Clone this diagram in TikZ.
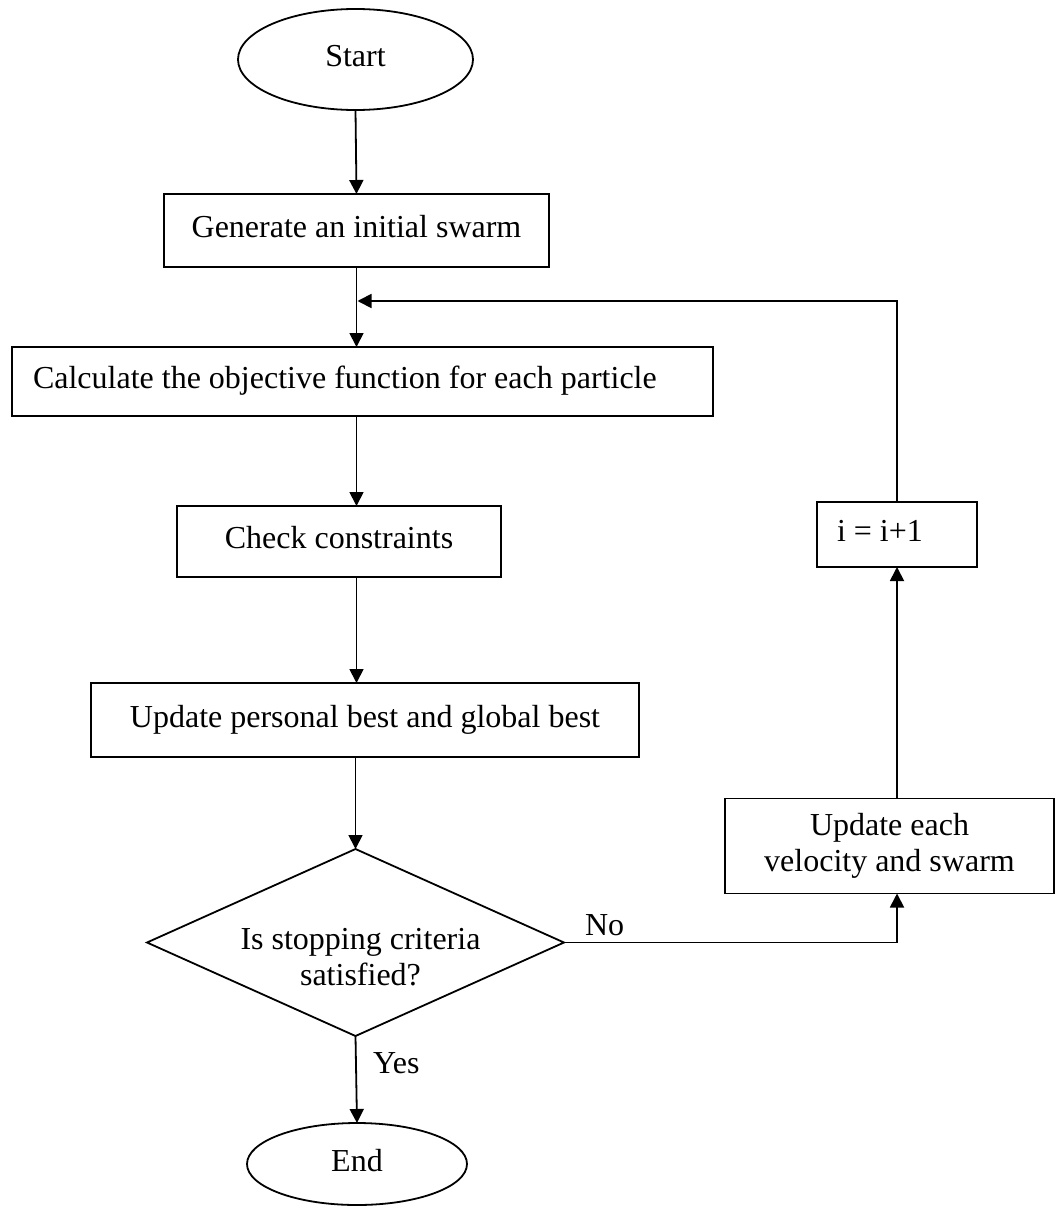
\documentclass[tikz,border=0pt]{standalone}
\usepackage{fontspec}
\setmainfont{Liberation Serif}
\usetikzlibrary{shapes.geometric,arrows.meta,calc}
\begin{document}
\begin{tikzpicture}[x=1pt,y=-1pt,
  every node/.style={font=\fontsize{32}{36}\selectfont, inner sep=0pt, outer sep=0pt},
  oneline/.style={text height=22.4pt, text depth=8pt},
  boxnode/.style={draw, rectangle, line width=1.8pt},
  term/.style={draw, ellipse, line width=1.8pt, oneline},
  decision/.style={draw, diamond, line width=1.8pt},
  arr/.style={line width=1.8pt, -{Triangle[width=14pt,length=14pt]}},
  conn/.style={line width=1.8pt}]
\useasboundingbox (0,0) rectangle (1061,1207);

\node[term, minimum width=235pt, minimum height=101pt] (start) at (355.5,59.5) {Start};
\node[boxnode, oneline, minimum width=385pt, minimum height=73pt] (gen) at (356.5,230.5) {Generate an initial swarm};
\node[boxnode, oneline, minimum width=701pt, minimum height=69pt, text width=659pt, align=flush left] (calc) at (362.5,381.5) {Calculate the objective function for each particle};
\node[boxnode, oneline, minimum width=324pt, minimum height=71pt] (check) at (339,541.5) {Check constraints};
\node[boxnode, oneline, minimum width=548pt, minimum height=74pt] (upd) at (365,720) {Update personal best and global best};
\node[decision, minimum width=417pt, minimum height=187pt] (dec) at (355.5,942.5) {};
\node[align=center] (dectext) at (360.5,957) {Is stopping criteria\\satisfied?};
\node[term, minimum width=220pt, minimum height=82pt] (end) at (357,1164) {End};
\node[boxnode, oneline, minimum width=160pt, minimum height=65pt, text width=120pt, align=flush left] (ibox) at (897,534.5) {i = i+1};
\node[boxnode, align=center, minimum width=329pt, minimum height=95pt] (vel) at (889.5,846) {Update each\\velocity and swarm};

\coordinate (join) at (357.5,301);

\draw[arr] (start.south) -- (gen.north);
\draw[arr] (gen.south) -- (gen.south |- calc.north);
\draw[arr] (gen.south |- calc.south) -- (gen.south |- check.north);
\draw[arr] (gen.south |- check.south) -- (gen.south |- upd.north);
\draw[arr] (dec.north |- upd.south) -- (dec.north);
\draw[arr] (dec.south) -- (end.north);
\node[anchor=base west] (yes) at (373,1073) {Yes};
\draw[arr] (dec.east) -- (dec.east -| ibox.south) -- (ibox.south |- vel.south);
\node[anchor=base west] (no) at (585,935) {No};
\draw[arr] (ibox.south |- vel.north) -- (ibox.south);
\draw[arr] (ibox.north) |- (join);
\end{tikzpicture}
\end{document}
